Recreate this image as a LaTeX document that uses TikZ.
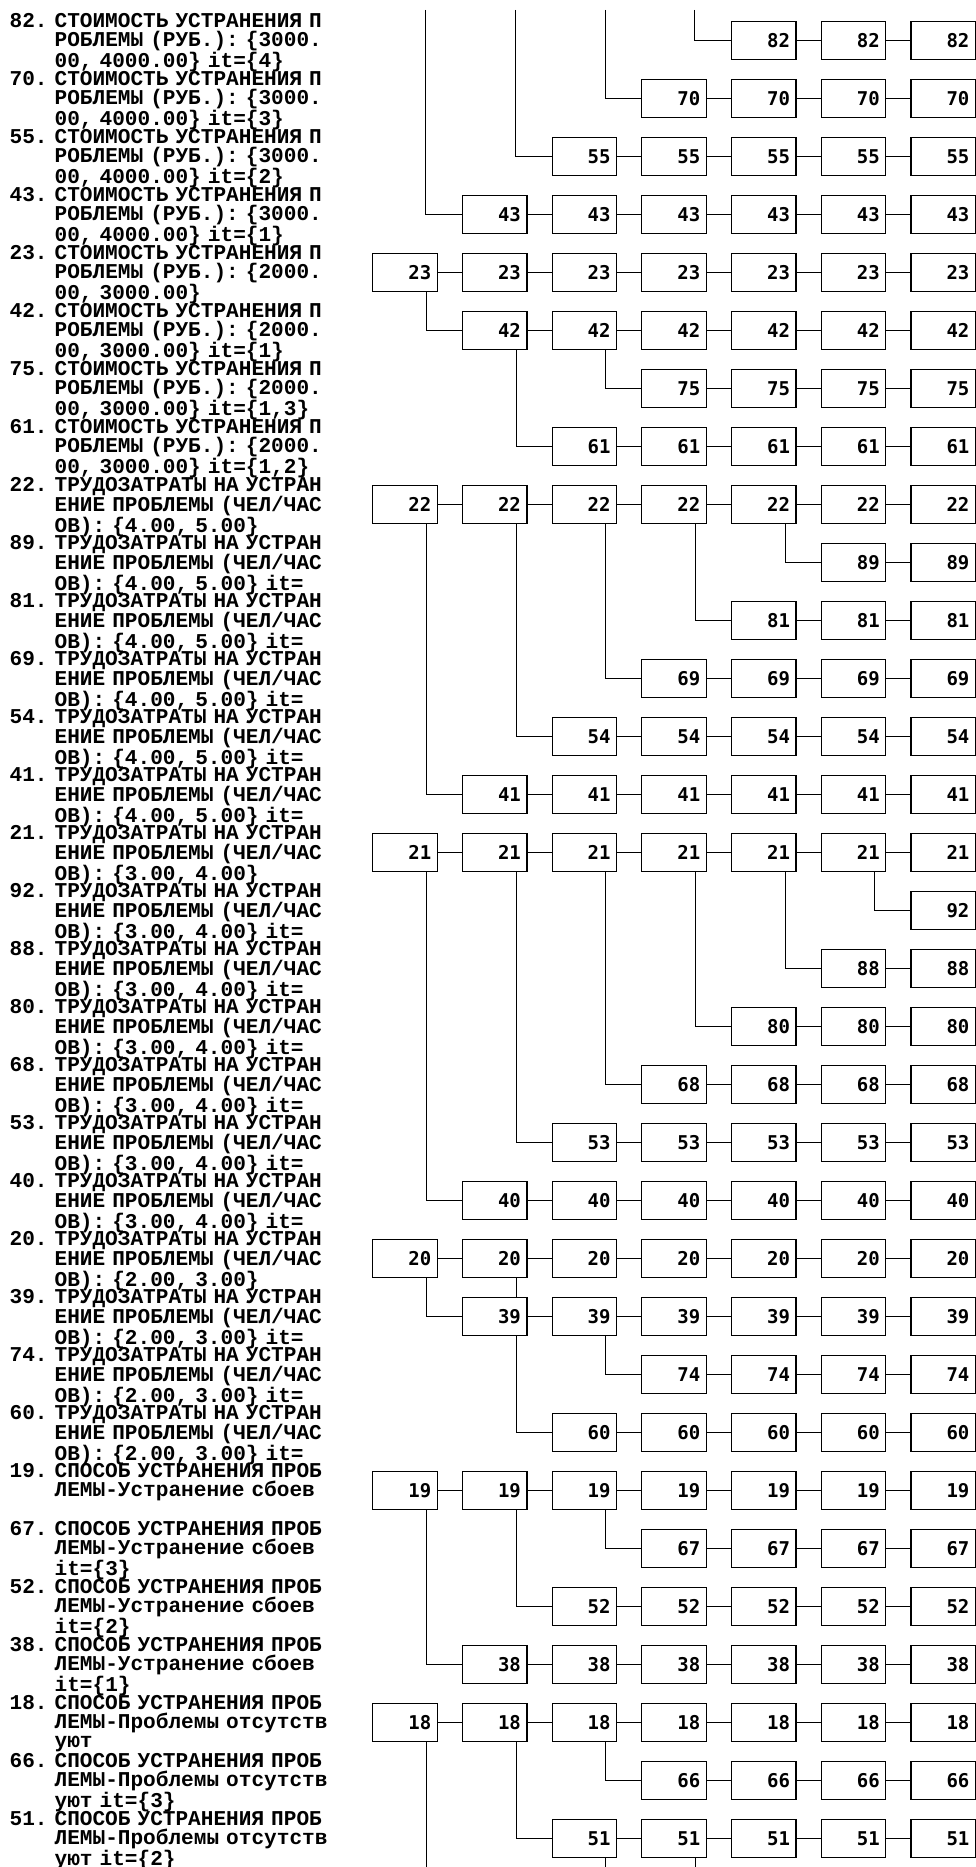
\documentclass[tikz,border=0pt]{standalone}
\usepackage{fontspec}
\usepackage{tikz}
\usetikzlibrary{backgrounds}
\newfontfamily\lblfont{Liberation Mono}
\newfontfamily\cellfont{DejaVu Sans Mono}
\frenchspacing
\newcommand{\ind}{\hphantom{00. }}

\begin{document}
\begin{tikzpicture}[x=1pt,y=-1pt,line width=1.2pt,
  cell/.style={draw,fill=white,minimum width=64.5pt,minimum height=38.4pt,text width=52.5pt,
               inner xsep=6pt,inner ysep=0pt,align=right,
               font=\cellfont\bfseries\fontsize{19}{19}\selectfont},
  lbl/.style={anchor=base west,inner sep=0pt,text width=340pt,align=left,
              font=\lblfont\bfseries\fontsize{21.1}{19.33}\selectfont}]
\useasboundingbox (0,0) rectangle (976,1867);

% row labels
\node[lbl] (t82) at (9,27.3) {82. СТОИМОСТЬ УСТРАНЕНИЯ П\\\ind РОБЛЕМЫ (РУБ.): \{3000.\\\ind 00, 4000.00\} it=\{4\}};
\node[lbl] (t70) at (9,85.3) {70. СТОИМОСТЬ УСТРАНЕНИЯ П\\\ind РОБЛЕМЫ (РУБ.): \{3000.\\\ind 00, 4000.00\} it=\{3\}};
\node[lbl] (t55) at (9,143.3) {55. СТОИМОСТЬ УСТРАНЕНИЯ П\\\ind РОБЛЕМЫ (РУБ.): \{3000.\\\ind 00, 4000.00\} it=\{2\}};
\node[lbl] (t43) at (9,201.3) {43. СТОИМОСТЬ УСТРАНЕНИЯ П\\\ind РОБЛЕМЫ (РУБ.): \{3000.\\\ind 00, 4000.00\} it=\{1\}};
\node[lbl] (t23) at (9,259.3) {23. СТОИМОСТЬ УСТРАНЕНИЯ П\\\ind РОБЛЕМЫ (РУБ.): \{2000.\\\ind 00, 3000.00\}};
\node[lbl] (t42) at (9,317.3) {42. СТОИМОСТЬ УСТРАНЕНИЯ П\\\ind РОБЛЕМЫ (РУБ.): \{2000.\\\ind 00, 3000.00\} it=\{1\}};
\node[lbl] (t75) at (9,375.3) {75. СТОИМОСТЬ УСТРАНЕНИЯ П\\\ind РОБЛЕМЫ (РУБ.): \{2000.\\\ind 00, 3000.00\} it=\{1,3\}};
\node[lbl] (t61) at (9,433.3) {61. СТОИМОСТЬ УСТРАНЕНИЯ П\\\ind РОБЛЕМЫ (РУБ.): \{2000.\\\ind 00, 3000.00\} it=\{1,2\}};
\node[lbl] (t22) at (9,491.3) {22. ТРУДОЗАТРАТЫ НА УСТРАН\\\ind ЕНИЕ ПРОБЛЕМЫ (ЧЕЛ/ЧАС\\\ind ОВ): \{4.00, 5.00\}};
\node[lbl] (t89) at (9,549.3) {89. ТРУДОЗАТРАТЫ НА УСТРАН\\\ind ЕНИЕ ПРОБЛЕМЫ (ЧЕЛ/ЧАС\\\ind ОВ): \{4.00, 5.00\} it=};
\node[lbl] (t81) at (9,607.3) {81. ТРУДОЗАТРАТЫ НА УСТРАН\\\ind ЕНИЕ ПРОБЛЕМЫ (ЧЕЛ/ЧАС\\\ind ОВ): \{4.00, 5.00\} it=};
\node[lbl] (t69) at (9,665.3) {69. ТРУДОЗАТРАТЫ НА УСТРАН\\\ind ЕНИЕ ПРОБЛЕМЫ (ЧЕЛ/ЧАС\\\ind ОВ): \{4.00, 5.00\} it=};
\node[lbl] (t54) at (9,723.3) {54. ТРУДОЗАТРАТЫ НА УСТРАН\\\ind ЕНИЕ ПРОБЛЕМЫ (ЧЕЛ/ЧАС\\\ind ОВ): \{4.00, 5.00\} it=};
\node[lbl] (t41) at (9,781.3) {41. ТРУДОЗАТРАТЫ НА УСТРАН\\\ind ЕНИЕ ПРОБЛЕМЫ (ЧЕЛ/ЧАС\\\ind ОВ): \{4.00, 5.00\} it=};
\node[lbl] (t21) at (9,839.3) {21. ТРУДОЗАТРАТЫ НА УСТРАН\\\ind ЕНИЕ ПРОБЛЕМЫ (ЧЕЛ/ЧАС\\\ind ОВ): \{3.00, 4.00\}};
\node[lbl] (t92) at (9,897.3) {92. ТРУДОЗАТРАТЫ НА УСТРАН\\\ind ЕНИЕ ПРОБЛЕМЫ (ЧЕЛ/ЧАС\\\ind ОВ): \{3.00, 4.00\} it=};
\node[lbl] (t88) at (9,955.3) {88. ТРУДОЗАТРАТЫ НА УСТРАН\\\ind ЕНИЕ ПРОБЛЕМЫ (ЧЕЛ/ЧАС\\\ind ОВ): \{3.00, 4.00\} it=};
\node[lbl] (t80) at (9,1013.3) {80. ТРУДОЗАТРАТЫ НА УСТРАН\\\ind ЕНИЕ ПРОБЛЕМЫ (ЧЕЛ/ЧАС\\\ind ОВ): \{3.00, 4.00\} it=};
\node[lbl] (t68) at (9,1071.3) {68. ТРУДОЗАТРАТЫ НА УСТРАН\\\ind ЕНИЕ ПРОБЛЕМЫ (ЧЕЛ/ЧАС\\\ind ОВ): \{3.00, 4.00\} it=};
\node[lbl] (t53) at (9,1129.3) {53. ТРУДОЗАТРАТЫ НА УСТРАН\\\ind ЕНИЕ ПРОБЛЕМЫ (ЧЕЛ/ЧАС\\\ind ОВ): \{3.00, 4.00\} it=};
\node[lbl] (t40) at (9,1187.3) {40. ТРУДОЗАТРАТЫ НА УСТРАН\\\ind ЕНИЕ ПРОБЛЕМЫ (ЧЕЛ/ЧАС\\\ind ОВ): \{3.00, 4.00\} it=};
\node[lbl] (t20) at (9,1245.3) {20. ТРУДОЗАТРАТЫ НА УСТРАН\\\ind ЕНИЕ ПРОБЛЕМЫ (ЧЕЛ/ЧАС\\\ind ОВ): \{2.00, 3.00\}};
\node[lbl] (t39) at (9,1303.3) {39. ТРУДОЗАТРАТЫ НА УСТРАН\\\ind ЕНИЕ ПРОБЛЕМЫ (ЧЕЛ/ЧАС\\\ind ОВ): \{2.00, 3.00\} it=};
\node[lbl] (t74) at (9,1361.3) {74. ТРУДОЗАТРАТЫ НА УСТРАН\\\ind ЕНИЕ ПРОБЛЕМЫ (ЧЕЛ/ЧАС\\\ind ОВ): \{2.00, 3.00\} it=};
\node[lbl] (t60) at (9,1419.3) {60. ТРУДОЗАТРАТЫ НА УСТРАН\\\ind ЕНИЕ ПРОБЛЕМЫ (ЧЕЛ/ЧАС\\\ind ОВ): \{2.00, 3.00\} it=};
\node[lbl] (t19) at (9,1477.3) {19. СПОСОБ УСТРАНЕНИЯ ПРОБ\\\ind ЛЕМЫ-Устранение сбоев};
\node[lbl] (t67) at (9,1535.3) {67. СПОСОБ УСТРАНЕНИЯ ПРОБ\\\ind ЛЕМЫ-Устранение сбоев\\\ind it=\{3\}};
\node[lbl] (t52) at (9,1593.3) {52. СПОСОБ УСТРАНЕНИЯ ПРОБ\\\ind ЛЕМЫ-Устранение сбоев\\\ind it=\{2\}};
\node[lbl] (t38) at (9,1651.3) {38. СПОСОБ УСТРАНЕНИЯ ПРОБ\\\ind ЛЕМЫ-Устранение сбоев\\\ind it=\{1\}};
\node[lbl] (t18) at (9,1709.3) {18. СПОСОБ УСТРАНЕНИЯ ПРОБ\\\ind ЛЕМЫ-Проблемы отсутств\\\ind уют};
\node[lbl] (t66) at (9,1767.3) {66. СПОСОБ УСТРАНЕНИЯ ПРОБ\\\ind ЛЕМЫ-Проблемы отсутств\\\ind уют it=\{3\}};
\node[lbl] (t51) at (9,1825.3) {51. СПОСОБ УСТРАНЕНИЯ ПРОБ\\\ind ЛЕМЫ-Проблемы отсутств\\\ind уют it=\{2\}};

% boxes and the links along each row
\foreach \r/\n/\s in {1/82/5,2/70/4,3/55/3,4/43/2,5/23/1,6/42/2,7/75/4,8/61/3,
    9/22/1,10/89/6,11/81/5,12/69/4,13/54/3,14/41/2,15/21/1,16/92/7,17/88/6,
    18/80/5,19/68/4,20/53/3,21/40/2,22/20/1,23/39/2,24/74/4,25/60/3,26/19/1,
    27/67/4,28/52/3,29/38/2,30/18/1,31/66/4,32/51/3}{
  \foreach \c in {\s,...,7}{
    \node[cell] (b\n-\c) at ({404.95+89.7*(\c-1)},{40.5+58*(\r-1)}) {\n};
    \ifnum\c>\s
      \pgfmathtruncatemacro\p{\c-1}
      \draw (b\n-\p.east) -- (b\n-\c.west);
    \fi
  }
}

\begin{scope}[on background layer]
% branches
\foreach \pa/\ch in {23-1/42-2,42-3/75-4,42-2/61-3,22-5/89-6,22-4/81-5,22-3/69-4,
    22-2/54-3,22-1/41-2,21-6/92-7,21-5/88-6,21-4/80-5,21-3/68-4,21-2/53-3,
    21-1/40-2,20-1/39-2,39-3/74-4,20-2/60-3,19-3/67-4,19-2/52-3,19-1/38-2,
    18-3/66-4,18-2/51-3}
  \draw ([xshift=-11.8pt]b\pa.south east) |- (b\ch.west);

% branches cut by the page edges
\coordinate (up1) at (425.4,10);
\coordinate (up2) at (515.1,10);
\coordinate (up3) at (604.8,10);
\coordinate (up4) at (694.5,10);
\coordinate (floor) at (0,1867);
\draw (up4) |- (b82-5.west);
\draw (up3) |- (b70-4.west);
\draw (up2) |- (b55-3.west);
\draw (up1) |- (b43-2.west);
\foreach \k in {18-1,51-3,51-4}
  \draw ([xshift=-11.8pt]b\k.south east) -- ([xshift=-11.8pt]b\k.south east |- floor);
\end{scope}
\end{tikzpicture}
\end{document}
